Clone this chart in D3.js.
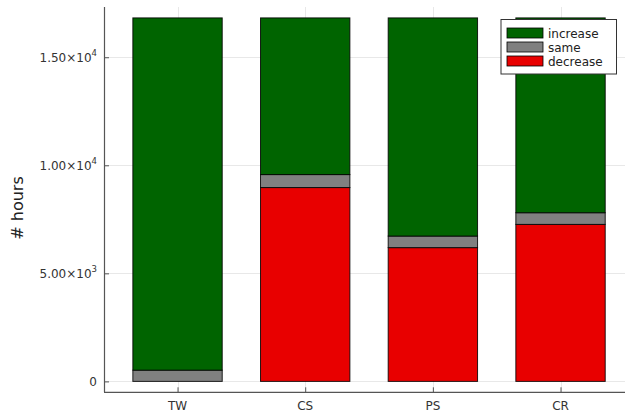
<!DOCTYPE html>
<html>
<head>
<meta charset="utf-8">
<script src="https://cdn.jsdelivr.net/npm/d3@7"></script>
<style>
  html, body { margin: 0; padding: 0; background: #fff; }
  svg { display: block; font-family: "DejaVu Sans", sans-serif; }
</style>
</head>
<body>
<svg id="chart" width="630" height="416"></svg>
<script>
// Hours per scenario, split by direction of change
const categories = ["TW", "CS", "PS", "CR"];
const decrease = [0, 8970, 6190, 7265];
const same = [520, 600, 535, 540];
const increase = [16300, 7250, 10095, 9015];
const seriesNames = ["decrease", "same", "increase"];
const seriesColors = { increase: "#006400", same: "#808080", decrease: "#e80000" };
const legendOrder = ["increase", "same", "decrease"];
const yTicks = [0, 5000, 10000, 15000];
const yTickMantissa = ["0", "5.00", "1.00", "1.50"];
const yTickExponent = [null, "3", "4", "4"];

const svg = d3.select("#chart");
const plot = { left: 104, right: 625, top: 7, bottom: 392.3 };

const rows = categories.map((c, i) => ({
  cat: c, idx: i + 1,
  decrease: decrease[i], same: same[i], increase: increase[i]
}));
const total = d3.max(rows, d => d.decrease + d.same + d.increase);

const x = d3.scaleLinear().domain([0.424, 4.505]).range([plot.left, plot.right]);
const y = d3.scaleLinear().domain([-0.03 * total, 1.03 * total]).range([plot.bottom, plot.top]);
const barW = x(1.7) - x(1);

// grid
const grid = svg.append("g").attr("stroke", "#000").attr("stroke-opacity", 0.09).attr("stroke-width", 1);
grid.selectAll(".gy").data(yTicks).join("line")
  .attr("x1", plot.left).attr("x2", plot.right)
  .attr("y1", d => Math.round(y(d)) + 0.5).attr("y2", d => Math.round(y(d)) + 0.5);
grid.selectAll(".gx").data(rows).join("line")
  .attr("y1", plot.top).attr("y2", plot.bottom)
  .attr("x1", d => Math.round(x(d.idx)) + 0.5).attr("x2", d => Math.round(x(d.idx)) + 0.5);

// stacked bars
const stack = d3.stack().keys(seriesNames)(rows);
svg.append("g").selectAll("g").data(stack).join("g")
  .attr("fill", s => seriesColors[s.key])
  .selectAll("rect").data(s => s).join("rect")
  .attr("x", d => x(d.data.idx) - barW / 2)
  .attr("width", barW)
  .attr("y", d => y(d[1]))
  .attr("height", d => Math.max(0, y(d[0]) - y(d[1])))
  .attr("stroke", "#000").attr("stroke-width", 1).attr("stroke-opacity", 0.85);

// axes
const axisColor = "#555";
const yAxis = svg.append("g").attr("transform", `translate(${plot.left},0)`)
  .call(d3.axisRight(y).tickValues(yTicks).tickSize(5).tickFormat(""));
const xAxis = svg.append("g").attr("transform", `translate(0,${plot.bottom})`)
  .call(d3.axisTop(x).tickValues(rows.map(d => d.idx)).tickSize(5).tickFormat(""));
[yAxis, xAxis].forEach(a => {
  a.select(".domain").remove();
  a.selectAll("line").attr("stroke", axisColor);
});
svg.append("line").attr("x1", plot.left + 0.5).attr("x2", plot.left + 0.5)
  .attr("y1", plot.top).attr("y2", plot.bottom).attr("stroke", axisColor).attr("stroke-width", 1.2);
svg.append("line").attr("x1", plot.left).attr("x2", plot.right)
  .attr("y1", plot.bottom).attr("y2", plot.bottom).attr("stroke", axisColor).attr("stroke-width", 1.2);

// y tick labels with scientific notation
const yl = svg.append("g").attr("font-size", 12).attr("fill", "#333").attr("text-anchor", "end");
yTicks.forEach((v, i) => {
  const t = yl.append("text").attr("x", 97).attr("y", y(v) + 4.5);
  if (yTickExponent[i] === null) {
    t.text(yTickMantissa[i]);
  } else {
    t.append("tspan").text(yTickMantissa[i] + "×10");
    t.append("tspan").attr("font-size", 8.5).attr("dy", -5.5).text(yTickExponent[i]);
  }
});

// x tick labels
svg.append("g").attr("font-size", 12).attr("fill", "#333").attr("text-anchor", "middle")
  .selectAll("text").data(rows).join("text")
  .attr("x", d => x(d.idx)).attr("y", 410).text(d => d.cat);

// y axis title
svg.append("text").attr("transform", "translate(23,208) rotate(-90)")
  .attr("text-anchor", "middle").attr("font-size", 16).attr("fill", "#222").text("# hours");

// legend
const lg = svg.append("g");
lg.append("rect").attr("x", 501).attr("y", 19.5).attr("width", 115.5).attr("height", 54.5)
  .attr("fill", "#fff").attr("stroke", "#333").attr("stroke-width", 1);
legendOrder.forEach((k, i) => {
  const yy = 28 + i * 14;
  lg.append("rect").attr("x", 507).attr("y", yy).attr("width", 36).attr("height", 10)
    .attr("fill", seriesColors[k]).attr("stroke", "#000").attr("stroke-width", 0.8);
  lg.append("text").attr("x", 548).attr("y", yy + 9.5).attr("font-size", 12)
    .attr("fill", "#222").text(k);
});
</script>
</body>
</html>
